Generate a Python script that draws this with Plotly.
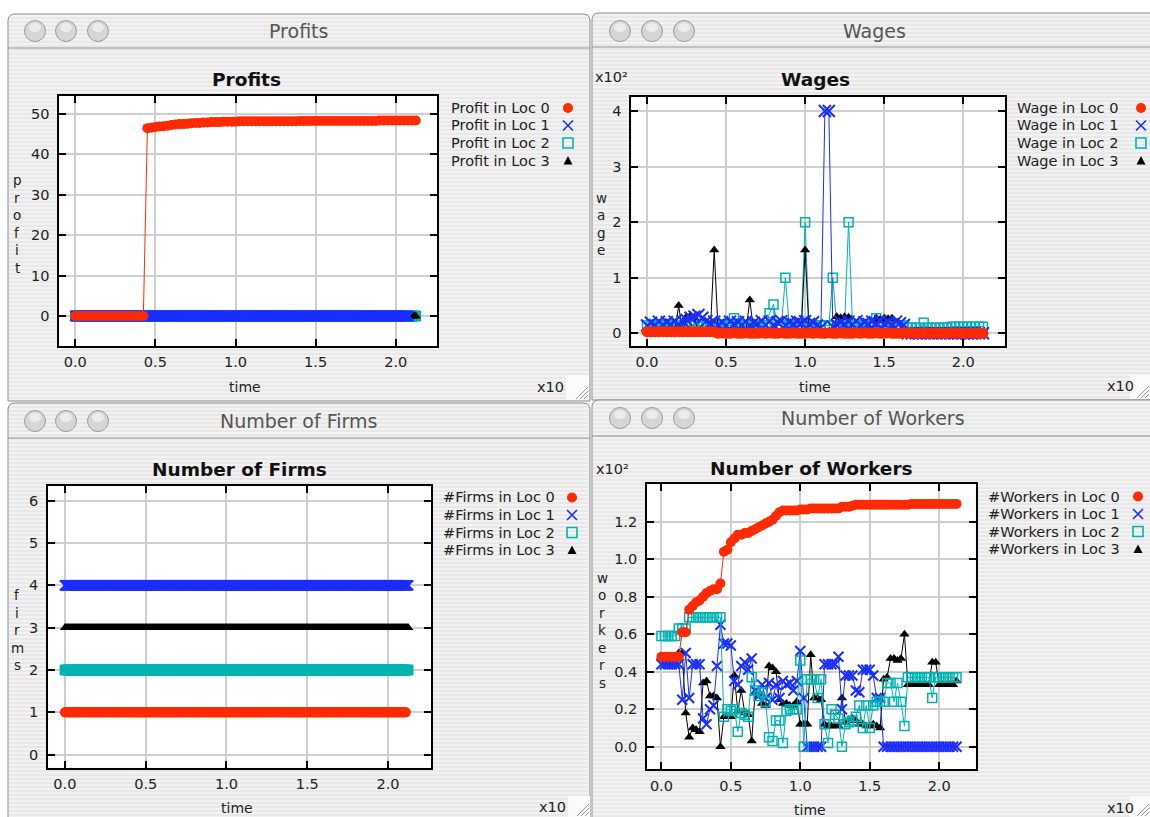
import plotly.graph_objects as go

W, H = 1150, 817
def fx(x): return x / W
def fy(y): return 1 - y / H

# ---------------- data ----------------
# sampled time steps (axis shown as x10^n)
T = [round(i * 0.025, 3) for i in range(86)]
T_FINE = [round(i * 0.005, 3) for i in range(426)]

# Profits
PROFIT_LOC0 = [0] * 18 + [46.5, 46.6, 46.8, 46.9, 47.0, 47.1, 47.3, 47.4, 47.5, 47.5, 47.6, 47.7,
                          47.8, 47.8, 47.9, 47.9, 48.0, 48.0, 48.0, 48.1, 48.1, 48.1, 48.1] \
               + [48.2] * 15 + [48.3] * 20 + [48.4] * 10
PROFIT_LOC1 = [0] * 417
PROFIT_LOC2 = [0] * 426
PROFIT_LOC3 = [0] * 426

# Wages (x10^2)
WAGE_LOC0 = [0.03] * 18 + [0.0, 0.01, 0.0, 0.0, 0.01, 0.0, 0.0, 0.01, 0.0, 0.0, 0.0, 0.01] * 5 \
            + [0.0, 0.01, 0.0, 0.0, 0.01, 0.0, 0.0, 0.0]
WAGE_LOC1 = [0.14, 0.19, 0.15, 0.21, 0.15, 0.20, 0.16, 0.21, 0.16, 0.22,
             0.24, 0.28, 0.30, 0.33, 0.28, 0.22, 0.18, 0.21,
             0.15, 0.20, 0.14, 0.21, 0.17, 0.20, 0.15, 0.21, 0.14, 0.19, 0.17, 0.22,
             0.15, 0.21, 0.15, 0.20, 0.22, 0.15, 0.20, 0.17, 0.21, 0.18, 0.22, 0.17, 0.20, 0.14,
             0.10, 4.0, 4.0, 0.12,
             0.15, 0.20, 0.17, 0.21, 0.16, 0.22, 0.15, 0.20, 0.17, 0.21, 0.18, 0.22, 0.17, 0.20,
             0.16, 0.21, 0.18, 0.15] + [0.0] * 20
WAGE_LOC2 = [0.14] * 18 + [0.14, 0.14, 0.14, 0.14, 0.27, 0.14] + [0.14] * 7 + [0.36, 0.52, 0.14, 0.14, 1.0] \
            + [0.14] * 4 + [2.0] + [0.14] * 6 + [1.0, 0.14, 0.14, 0.14, 2.0] + [0.14] * 6 + [0.27] \
            + [0.14] * 7 + [0.1] * 4 + [0.19] + [0.1] * 6 + [0.12] * 9
WAGE_LOC3 = [0.02] * 8 + [0.5, 0.02, 0.3, 0.32, 0.28] + [0.02] * 4 + [1.5] + [0.02] * 8 + [0.6] \
            + [0.02] * 13 + [1.5] + [0.02] * 7 + [0.3, 0.28, 0.3, 0.29] + [0.02] * 6 \
            + [0.27, 0.25, 0.27, 0.26, 0.27] + [0.02] * 3 + [0.02] * 20

# Number of firms
FIRMS_LOC0 = [1] * 423
FIRMS_LOC1 = [4] * 426
FIRMS_LOC2 = [2] * 426
FIRMS_LOC3 = [3] * 426

# Number of workers (x10^2)
WORKERS_LOC0 = [0.48] * 6 + [0.61, 0.61] + [0.73, 0.75, 0.77, 0.78, 0.80, 0.82, 0.83, 0.84, 0.84, 0.87] \
    + [1.04, 1.05, 1.09, 1.11, 1.13, 1.13, 1.14, 1.14, 1.15, 1.16, 1.17, 1.18, 1.19, 1.20, 1.21, 1.23,
       1.25, 1.26, 1.26] \
    + [1.26, 1.26, 1.26, 1.265, 1.265, 1.265, 1.27] + [1.27] * 8 \
    + [1.28, 1.28, 1.28, 1.285, 1.29, 1.29, 1.29] + [1.29] * 13 + [1.295] * 14
WORKERS_LOC1 = [0.44] * 6 + [0.25, 0.50, 0.26, 0.44, 0.44, 0.44] \
    + [0.15, 0.12, 0.20, 0.22, 0.43, 0.65] \
    + [0.55, 0.55, 0.54, 0.35, 0.33, 0.43, 0.45, 0.41, 0.47, 0.30] \
    + [0.27, 0.33, 0.26, 0.34, 0.25, 0.33, 0.26, 0.35, 0.33, 0.34, 0.30, 0.35] \
    + [0.51, 0.26, 0.0, 0.0, 0.0, 0.0, 0.0] \
    + [0.44, 0.44, 0.44, 0.44, 0.48, 0.20, 0.38, 0.38, 0.38, 0.30, 0.29, 0.41, 0.41, 0.41, 0.38, 0.26, 0.26] \
    + [0.0] * 22
WORKERS_LOC2 = [0.59] * 5 + [0.63] * 3 + [0.69] * 10 \
    + [0.16, 0.20, 0.19, 0.20, 0.08, 0.18, 0.17, 0.16, 0.37, 0.30] \
    + [0.27, 0.29, 0.24, 0.05, 0.03, 0.14, 0.14, 0.02, 0.19, 0.20, 0.20, 0.20] \
    + [0.46, 0.0, 0.36, 0.36, 0.36, 0.26, 0.36, 0.12, 0.02, 0.20, 0.17, 0.15] \
    + [0.0, 0.12, 0.13, 0.14, 0.16, 0.22, 0.10, 0.22, 0.10, 0.22, 0.24, 0.24, 0.24] \
    + [0.34, 0.34, 0.24, 0.34, 0.24, 0.11] + [0.37] * 7 + [0.26] + [0.37] * 7
WORKERS_LOC3 = [0.48] * 5 + [0.50, 0.50, 0.18, 0.05, 0.10, 0.09, 0.08] \
    + [0.34, 0.35, 0.27, 0.27, 0.26, 0.0] \
    + [0.16, 0.16, 0.16, 0.38, 0.19, 0.30, 0.18, 0.17, 0.03, 0.29] \
    + [0.27, 0.23, 0.22, 0.43, 0.42, 0.40, 0.25, 0.23, 0.23, 0.22, 0.22, 0.24] \
    + [0.12, 0.12, 0.12, 0.49, 0.26, 0.26, 0.25, 0.12, 0.11, 0.11, 0.11, 0.11] \
    + [0.26, 0.13, 0.14, 0.15, 0.14, 0.12, 0.12, 0.11, 0.11, 0.12, 0.11, 0.10] \
    + [0.36, 0.37, 0.47, 0.47, 0.46, 0.47, 0.60] + [0.33] * 7 + [0.45, 0.45] + [0.33] * 5 + [0.35]

X_TICKS = [0, 0.5, 1.0, 1.5, 2.0]
X_TICKTEXT = ["0.0", "0.5", "1.0", "1.5", "2.0"]

# ---------------- style ----------------
COLORS = ["#ff2a00", "#1a2eff", "#00b3b3", "#000000"]
SYMBOLS = ["circle", "x-thin", "square-open", "triangle-up"]
SIZES = [10, 10, 9, 9]
MLW = [0, 2, 1.5, 0]
FONT = "DejaVu Sans"

fig = go.Figure()

def add(x, y, loc, ax, size=None):
    fig.add_trace(go.Scatter(
        x=x[:len(y)], y=y, mode="lines+markers", xaxis="x" + ax, yaxis="y" + ax,
        line=dict(color=COLORS[loc], width=1),
        marker=dict(symbol=SYMBOLS[loc], size=size or SIZES[loc], color=COLORS[loc],
                    line=dict(color=COLORS[loc], width=MLW[loc])),
        showlegend=False, hoverinfo="skip", cliponaxis=True))

# Profits (axis '')
add(T_FINE, PROFIT_LOC2, 2, "")
add(T_FINE, PROFIT_LOC3, 3, "")
add(T_FINE, PROFIT_LOC1, 1, "")
add(T, PROFIT_LOC0, 0, "")
# Wages (axis '2')
add(T, WAGE_LOC2, 2, "2")
add(T, WAGE_LOC3, 3, "2")
add(T, WAGE_LOC1, 1, "2", size=12)
add(T, WAGE_LOC0, 0, "2", size=11)
# Firms (axis '3')
add(T_FINE, FIRMS_LOC0, 0, "3")
add(T_FINE, FIRMS_LOC1, 1, "3")
add(T_FINE, FIRMS_LOC2, 2, "3")
add(T_FINE, FIRMS_LOC3, 3, "3")
# Workers (axis '4')
add(T, WORKERS_LOC3, 3, "4")
add(T, WORKERS_LOC1, 1, "4")
add(T, WORKERS_LOC2, 2, "4")
add(T, WORKERS_LOC0, 0, "4")

# panel geometry in pixels: (left, right, top, bottom), x range, y range, y ticks
PANELS = {
    "": dict(box=(59.4, 436.8, 96, 346), xr=[-0.099, 2.256], yr=[-7.43, 54.46],
             yt=[0, 10, 20, 30, 40, 50], ytt=["0", "10", "20", "30", "40", "50"]),
    "2": dict(box=(631.4, 1004.6, 97.3, 346), xr=[-0.099, 2.262], yr=[-0.228, 4.246],
              yt=[0, 1, 2, 3, 4], ytt=["0", "1", "2", "3", "4"]),
    "3": dict(box=(48.1, 431.2, 486, 767.7), xr=[-0.104, 2.267], yr=[-0.307, 6.347],
              yt=[0, 1, 2, 3, 4, 5, 6], ytt=["0", "1", "2", "3", "4", "5", "6"]),
    "4": dict(box=(647.1, 975.7, 484, 769.3), xr=[-0.103, 2.263], yr=[-0.1205, 1.401],
              yt=[0, 0.2, 0.4, 0.6, 0.8, 1.0, 1.2], ytt=["0.0", "0.2", "0.4", "0.6", "0.8", "1.0", "1.2"]),
}

axis_common = dict(showgrid=True, gridcolor="#cfcfcf", gridwidth=1.5, zeroline=False,
                   showline=True, linecolor="black", linewidth=2, mirror="ticks",
                   ticks="inside", ticklen=7, tickwidth=2, tickcolor="black",
                   tickfont=dict(family=FONT, size=14.5, color="#222222"), fixedrange=True)

layout_axes = {}
for k, p in PANELS.items():
    l, r, t, b = p["box"]
    layout_axes["xaxis" + k] = dict(axis_common, domain=[fx(l), fx(r)], range=p["xr"],
                                    tickvals=X_TICKS, ticktext=X_TICKTEXT, anchor="y" + k,
                                    ticklabelstandoff=2)
    layout_axes["yaxis" + k] = dict(axis_common, domain=[fy(b), fy(t)], range=p["yr"],
                                    tickvals=p["yt"], ticktext=p["ytt"], anchor="x" + k,
                                    ticklabelstandoff=5)

# ---------------- window chrome ----------------
shapes = []
def rect(x0, y0, x1, y1, fill, line=None, lw=0, layer="below"):
    shapes.append(dict(type="rect", xref="paper", yref="paper", x0=fx(x0), x1=fx(x1),
                       y0=fy(y1), y1=fy(y0), fillcolor=fill,
                       line=dict(color=line or fill, width=lw), layer=layer))

def window(x0, y0, x1, y1, tb):
    r = 7
    path = (f"M{fx(x0)},{fy(y1)} L{fx(x0)},{fy(y0 + r)} Q{fx(x0)},{fy(y0)} {fx(x0 + r)},{fy(y0)} "
            f"L{fx(x1 - r)},{fy(y0)} Q{fx(x1)},{fy(y0)} {fx(x1)},{fy(y0 + r)} L{fx(x1)},{fy(y1)} Z")
    shapes.append(dict(type="path", xref="paper", yref="paper", path=path, fillcolor="#f2f2f2",
                       line=dict(color="#8a8a8a", width=1), layer="below"))
    stripes = " ".join(f"M{fx(x0 + 1)},{fy(yy)} L{fx(x1 - 1)},{fy(yy)}"
                       for yy in range(int(y0) + 4, int(y1), 4))
    shapes.append(dict(type="path", xref="paper", yref="paper", path=stripes,
                       line=dict(color="#e5e5e5", width=1.6), layer="below"))
    shapes.append(dict(type="line", xref="paper", yref="paper", x0=fx(x0), x1=fx(x1),
                       y0=fy(tb), y1=fy(tb), line=dict(color="#8f8f8f", width=1.2), layer="below"))

def lights(xs, y):
    for cx in xs:
        shapes.append(dict(type="circle", xref="paper", yref="paper", x0=fx(cx - 10.5), x1=fx(cx + 10.5),
                           y0=fy(y + 10.5), y1=fy(y - 10.5), fillcolor="#d6d6d6",
                           line=dict(color="#9c9c9c", width=1), layer="below"))
        shapes.append(dict(type="circle", xref="paper", yref="paper", x0=fx(cx - 6), x1=fx(cx + 6),
                           y0=fy(y + 1), y1=fy(y - 8), fillcolor="#ececec",
                           line=dict(width=0), layer="below"))

def grip(x0, y0, x1, y1):
    rect(x0, y0, x1, y1, "#fbfbfb")
    for d in (4, 8, 12):
        shapes.append(dict(type="line", xref="paper", yref="paper", x0=fx(x1 - d - 1), y0=fy(y1 - 1),
                           x1=fx(x1 - 1), y1=fy(y1 - d - 1), line=dict(color="#9a9a9a", width=1),
                           layer="below"))

window(8, 14, 590, 401, 48)
window(592, 13, 1160, 400, 47)
window(8, 403, 590, 830, 438)
window(592, 400, 1160, 830, 436)
lights([35, 66, 98], 31)
lights([620, 652, 684], 31)
lights([35, 66, 98], 421)
lights([620, 652, 684], 418)
grip(566, 375, 589, 400)
grip(1130, 375, 1150, 399)
grip(568, 796, 590, 817)
grip(1130, 796, 1150, 817)
# white plot areas (paper shapes sit above plot backgrounds)
for k, p in PANELS.items():
    l, r, t, b = p["box"]
    rect(l, t, r, b, "white")

# legend key symbols (drawn as layout shapes)
def key(loc, cx, cy):
    c = COLORS[loc]
    if loc == 0:
        shapes.append(dict(type="circle", xref="paper", yref="paper", x0=fx(cx - 5), x1=fx(cx + 5),
                           y0=fy(cy + 5), y1=fy(cy - 5), fillcolor=c, line=dict(width=0), layer="above"))
    elif loc == 1:
        p = (f"M{fx(cx - 5)},{fy(cy - 5)} L{fx(cx + 5)},{fy(cy + 5)} "
             f"M{fx(cx - 5)},{fy(cy + 5)} L{fx(cx + 5)},{fy(cy - 5)}")
        shapes.append(dict(type="path", xref="paper", yref="paper", path=p,
                           line=dict(color=c, width=1.6), layer="above"))
    elif loc == 2:
        shapes.append(dict(type="rect", xref="paper", yref="paper", x0=fx(cx - 5), x1=fx(cx + 5),
                           y0=fy(cy + 5), y1=fy(cy - 5), fillcolor="rgba(0,0,0,0)",
                           line=dict(color=c, width=1.6), layer="above"))
    else:
        p = f"M{fx(cx - 4.5)},{fy(cy + 4)} L{fx(cx + 4.5)},{fy(cy + 4)} L{fx(cx)},{fy(cy - 4.5)} Z"
        shapes.append(dict(type="path", xref="paper", yref="paper", path=p, fillcolor=c,
                           line=dict(width=0), layer="above"))

# ---------------- texts ----------------
ann = []
def text(x, y, s, size=14.5, color="#222222", anchor="center", bold=False, family=FONT):
    ann.append(dict(xref="paper", yref="paper", x=fx(x), y=fy(y), text=s,
                    showarrow=False, xanchor=anchor, yanchor="middle",
                    font=dict(family=family, size=size, color=color,
                              weight="bold" if bold else "normal")))

def vertical(x, yc, word, size=13.5, step=17.5):
    n = len(word)
    for i, ch in enumerate(word):
        text(x, yc + (i - (n - 1) / 2) * step, ch, size=size)

# window titles
text(298, 31, "Profits", size=19, color="#555555")
text(874, 31, "Wages", size=19, color="#555555")
text(298, 421, "Number of Firms", size=19, color="#555555")
text(873, 418, "Number of Workers", size=19, color="#555555")
# chart titles
text(246, 80, "Profits", size=18.5, color="#111111", bold=True)
text(815, 80, "Wages", size=18.5, color="#111111", bold=True)
text(239, 469, "Number of Firms", size=18.5, color="#111111", bold=True)
text(811, 468, "Number of Workers", size=18.5, color="#111111", bold=True)
# axis labels
for (x, y) in [(245, 387), (815, 387), (237, 808), (810, 810)]:
    text(x, y, "time", size=14)
for (x, y) in [(550, 387), (1120, 386), (552, 807), (1120, 808)]:
    text(x, y, "x10", size=14.5)
vertical(17, 224, "profit")
vertical(601, 224, "wage")
vertical(17, 630, "firms")
vertical(602, 630, "workers")
text(611, 77, "x10²", size=14.5)
text(612, 469, "x10²", size=14.5)

# legends
LEGENDS = [
    (449, 568, [108, 125.5, 143, 160.5], "Profit in Loc {}"),
    (1015, 1141, [108, 125.5, 143, 160.5], "Wage in Loc {}"),
    (441, 572, [497.5, 515, 532.5, 550], "#Firms in Loc {}"),
    (986, 1138, [496.5, 514, 531.5, 549], "#Workers in Loc {}"),
]
for tx, mx, rows, fmt in LEGENDS:
    for i, ry in enumerate(rows):
        text(tx, ry, fmt.format(i), size=14.5, anchor="left")
        key(i, mx, ry)

fig.update_layout(
    width=W, height=H, autosize=False,
    margin=dict(l=0, r=0, t=0, b=0),
    paper_bgcolor="white", plot_bgcolor="white",
    font=dict(family=FONT),
    showlegend=False,
    shapes=shapes, annotations=ann,
    **layout_axes,
)

fig.write_html("out.html", config={"displayModeBar": False},
               post_script="document.body.style.margin='0';document.body.style.overflow='hidden';")
